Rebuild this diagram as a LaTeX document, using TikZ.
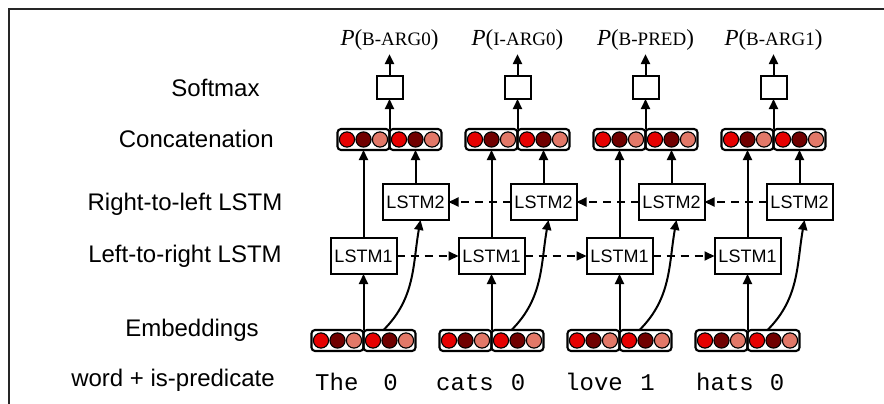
\documentclass[tikz,border=0pt]{standalone}
\usepackage{fontspec}
\setmainfont{Liberation Serif}
\setsansfont{Liberation Sans}
\setmonofont{Liberation Mono}
\usetikzlibrary{arrows.meta}
\definecolor{cA}{RGB}{230,0,0}
\definecolor{cB}{RGB}{112,0,0}
\definecolor{cC}{RGB}{226,120,104}
\begin{document}
\begin{tikzpicture}[x=1pt,y=-1pt,
  vec/.style={draw, line width=2.1pt, rounded corners=3.5pt, minimum width=52pt, minimum height=21pt,
    inner sep=0pt, outer sep=0pt,
    path picture={\foreach \dx/\cc in {-16.5/cA,0/cB,16.5/cC}{\draw[fill=\cc, line width=1.1pt] ([xshift=\dx pt]path picture bounding box.center) circle[radius=7.6pt];}}},
  lstm/.style={draw, line width=2pt, minimum width=66pt, minimum height=36pt, inner sep=0pt, outer sep=0pt,
    font=\sffamily\fontsize{18}{21}\selectfont},
  smx/.style={draw, line width=2pt, minimum width=26pt, minimum height=23pt, inner sep=0pt, outer sep=0pt},
  arr/.style={-{Triangle[length=10pt,width=9pt]}, line width=2pt},
  darr/.style={arr, dash pattern=on 8pt off 6pt},
  side/.style={anchor=base, inner sep=0pt, font=\sffamily\fontsize{24}{28}\selectfont},
  plab/.style={anchor=base, inner sep=3pt, font=\rmfamily\fontsize{23}{27}\selectfont},
  wlab/.style={anchor=base west, inner sep=0pt, font=\ttfamily\fontsize{24}{28}\selectfont},
  nlab/.style={anchor=base, inner sep=0pt, font=\ttfamily\fontsize{24}{28}\selectfont}
]
\useasboundingbox (0,0) rectangle (884,404);
\draw[line width=1.2pt, black!85] (9,404) -- (9,9) -- (884,9);

\node[side] (tsm) at (215.5,96.7) {Softmax};
\node[side] (tcc) at (196.3,147.7) {Concatenation};
\node[side] (trl) at (185,210) {Right-to-left LSTM};
\node[side] (tlr) at (185,262) {Left-to-right LSTM};
\node[side] (tem) at (192,336) {Embeddings};
\node[side] (twd) at (173,386) {word + is-predicate};

\foreach \i/\w/\wx/\n/\nx/\lab in {0/The/315/0/390.5/B-ARG0, 1/cats/436/0/518/I-ARG0, 2/love/565/1/647.5/B-PRED, 3/hats/696/0/777/B-ARG1}{
  \pgfmathsetmacro{\x}{363.5+128*\i}
  \node[vec] (el\i) at (\x-26,340.5) {};
  \node[vec] (er\i) at (\x+26,340.5) {};
  \node[lstm] (la\i) at (\x,256) {LSTM1};
  \node[lstm] (lb\i) at (\x+52,202) {LSTM2};
  \node[vec] (cl\i) at (\x,139.5) {};
  \node[vec] (cr\i) at (\x+52,139.5) {};
  \node[smx] (s\i) at (\x+26,87.5) {};
  \node[plab] (p\i) at (\x+26,46) {\textit{P}({\fontsize{19}{22}\selectfont \lab})};
  \node[wlab] (w\i) at (\wx,390) {\w};
  \node[nlab] (n\i) at (\nx,390) {\n};
  \draw[arr] (el\i.north east) -- (la\i.south);
  \draw[arr] ([xshift=20pt]er\i.north west) to[out=45,in=-100] ([xshift=5pt]lb\i.south);
  \draw[arr] (la\i.north) -- (cl\i.south);
  \draw[arr] (lb\i.north) -- (cr\i.south);
  \draw[arr] (cl\i.north east) -- (s\i.south);
  \draw[arr] (s\i.north) -- (p\i.south);
}
\foreach \i/\j in {0/1,1/2,2/3}{
  \draw[darr] (la\i.east) -- (la\j.west);
  \draw[darr] (lb\j.west) -- (lb\i.east);
}
\end{tikzpicture}
\end{document}
